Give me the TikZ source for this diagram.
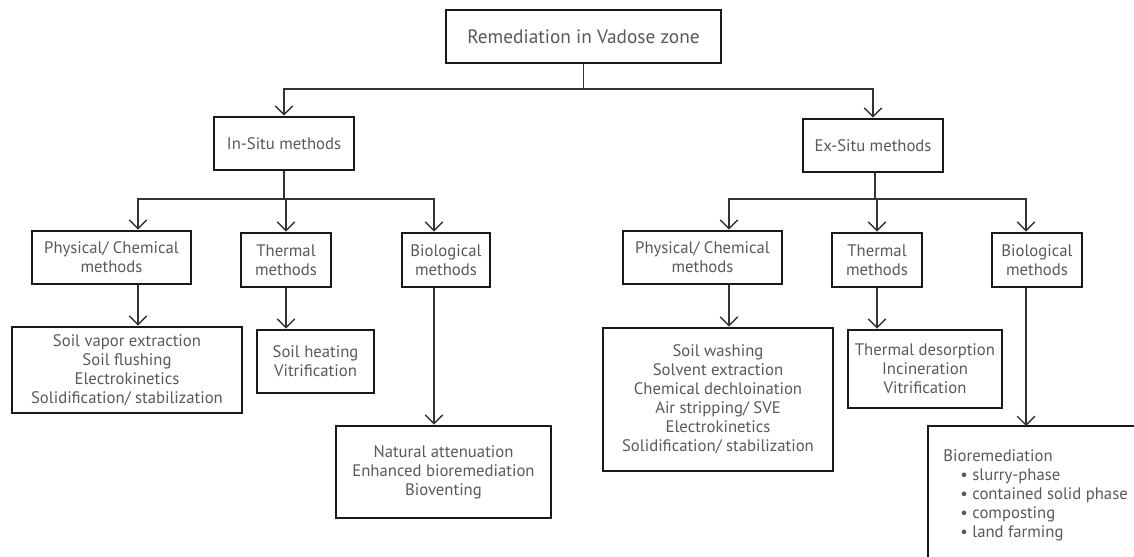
\documentclass[tikz,border=0pt]{standalone}
\usepackage{fontspec}
\setmainfont{PT Sans}
\usetikzlibrary{arrows.meta}
\begin{document}
\begin{tikzpicture}[x=0.02cm, y=-0.02cm,
        box/.style={draw=black!90, line width=1.6pt, align=center, inner sep=2pt,
            text=black!65, font=\fontsize{9.5}{10.8}\selectfont},
        line/.style={draw=black!80, line width=0.8pt},
        arr/.style={line, -{Straight Barb[length=5pt, width=10pt]}}]
        \useasboundingbox (0,0) rectangle (1134,557);
        \clip (0,0) rectangle (1134,557);
        % boxes: name / centre x / centre y / width / height / text
        \foreach \n/\x/\y/\w/\h/\t in {
            top/583.5/36.5/5.5/1.06/{\fontsize{11}{13}\selectfont Remediation in Vadose zone},
            insitu/284/143.5/2.8/1.06/{In-Situ methods},
            exsitu/873/145.5/2.8/1.06/{Ex-Situ methods},
            pcL/111.5/257.5/3.18/1.06/{Physical/ Chemical\\methods},
            thL/286/260/1.8/1.08/{Thermal\\methods},
            bioL/446/260/1.76/1.08/{Biological\\methods},
            pcR/702.5/257.5/3.18/1.06/{Physical/ Chemical\\methods},
            thR/877/260/1.8/1.08/{Thermal\\methods},
            bioR/1037/260/1.8/1.08/{Biological\\methods},
            pcLleaf/127/370/4.6/1.72/{Soil vapor extraction\\Soil flushing\\Electrokinetics\\Solidification/ stabilization},
            thLleaf/315.5/361.5/2.34/1.26/{Soil heating\\Vitrification},
            bioLleaf/443.5/472/4.3/1.84/{Natural attenuation\\Enhanced bioremediation\\Bioventing},
            pcRleaf/718/399.5/4.6/2.86/{Soil washing\\Solvent extraction\\Chemical dechloination\\Air stripping/ SVE\\Electrokinetics\\Solidification/ stabilization},
            thRleaf/925/369/3.08/1.56/{Thermal desorption\\Incineration\\Vitrification}}
            \node[box, minimum width=\w cm, minimum height=\h cm] (\n) at (\x,\y) {\t};
        % last box runs off the page
        \node[box, draw=none, anchor=north west, align=left, inner xsep=0.28cm, inner ysep=0.44cm]
            (bioRleaf) at (928,426)
            {Bioremediation\\
             \hspace{0.34cm}\textbullet\ slurry-phase\\
             \hspace{0.34cm}\textbullet\ contained solid phase\\
             \hspace{0.34cm}\textbullet\ composting\\
             \hspace{0.34cm}\textbullet\ land farming};
        \draw[black!90, line width=1.6pt] (bioRleaf.north west) ++(0,140) -- (bioRleaf.north west) -- ++(220,0);
        % buses and columns
        \coordinate (busA) at (583.5,89);
        \coordinate (busB) at (284,199);
        \coordinate (busC) at (875,199);
        \foreach \c/\x in {cA/138,cB/286,cC/434,cD/729,cE/877,cF/1026}
            \coordinate (\c) at (\x,199);
        \draw[line] (top.south) -- (busA);
        \draw[arr] (busA) -| (insitu.north);
        \draw[arr] (busA) -| (exsitu.north);
        \draw[line] (insitu.south) -- (busB);
        \draw[line] (exsitu.south -| busC) -- (busC);
        \foreach \c/\p/\l in {cA/pcL/pcLleaf, cB/thL/thLleaf, cC/bioL/bioLleaf}{
            \draw[arr] (busB) -| (\p.north -| \c);
            \draw[arr] (\p.south -| \c) -- (\l.north -| \c);}
        \foreach \c/\p/\l in {cD/pcR/pcRleaf, cE/thR/thRleaf, cF/bioR/bioRleaf}{
            \draw[arr] (busC) -| (\p.north -| \c);
            \draw[arr] (\p.south -| \c) -- (\l.north -| \c);}
    \end{tikzpicture}
\end{document}
